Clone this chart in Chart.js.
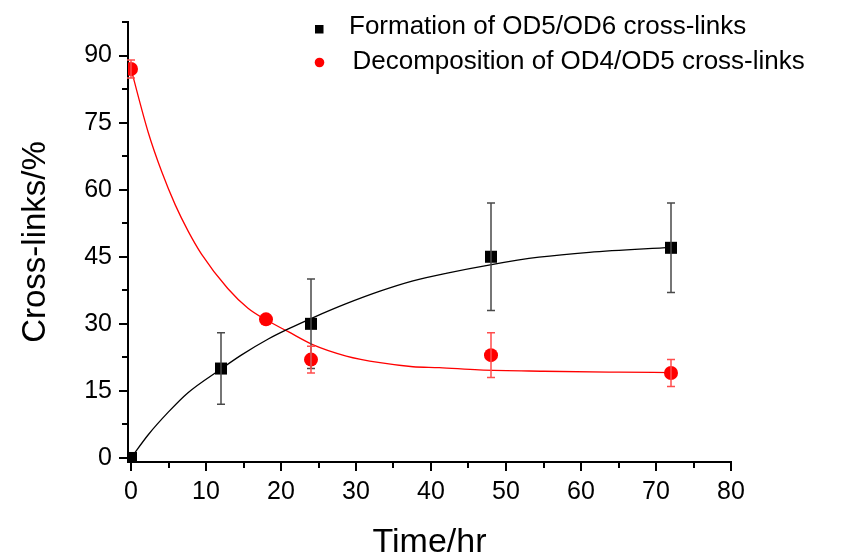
<!DOCTYPE html>
<html>
<head>
<meta charset="utf-8">
<script src="https://cdn.jsdelivr.net/npm/chart.js@4.4.1/dist/chart.umd.min.js"></script>
<style>
  html, body { margin: 0; padding: 0; background: #fff; }
  #wrap { width: 847px; height: 552px; }
</style>
</head>
<body>
<div id="wrap"><canvas id="chart"></canvas></div>
<script>
// measured points (mean and error)
const formationTime = [0, 12, 24, 48, 72];
const formationValues = [0, 20, 30, 45, 47];
const formationErr = [0, 8, 10, 12, 10];

const decompTime = [0, 18, 24, 48, 72];
const decompValues = [87, 31, 22, 23, 19];
const decompErr = [2, 0, 3, 5, 3];

// fitted curves
const formationFitTime = [0, 2.3, 5, 7.6, 12, 14.7, 18.3, 20.9, 24.3, 28.7, 33.2, 37.6, 42, 47.9, 54.4, 61.1, 72];
const formationFitValues = [0, 5.2, 10.3, 14.6, 19.9, 23, 26.6, 28.8, 31.4, 34.5, 37.3, 39.6, 41.3, 43.2, 44.9, 46, 47.1];

const decompFitTime = [0, 2.3, 4.1, 5.9, 7.6, 9.4, 12.9, 15.6, 18, 20.9, 24.3, 28.7, 33.2, 37.6, 41.1, 46.4, 55, 65, 72];
const decompFitValues = [87, 72.8, 64, 56.6, 50.8, 45.6, 37.9, 33.5, 30.9, 28.3, 25.3, 22.8, 21.3, 20.4, 20.2, 19.7, 19.4, 19.2, 19.1];

// axis ticks
const xTicks = [0, 10, 20, 30, 40, 50, 60, 70, 80];
const xMinorTicks = [5, 15, 25, 35, 45, 55, 65, 75];
const yTicks = [0, 15, 30, 45, 60, 75, 90];
const yMinorTicks = [7.5, 22.5, 37.5, 52.5, 67.5, 82.5, 97.5];

const legendLabels = ['Formation of OD5/OD6 cross-links', 'Decomposition of OD4/OD5 cross-links'];

const FONT = '"Liberation Sans", Arial, sans-serif';

const toPoints = (xs, ys) => xs.map((x, i) => ({ x: x, y: ys[i] }));

// error bars drawn on top of the markers
const errorBars = {
  id: 'errorBars',
  afterDatasetsDraw(chart) {
    const { ctx, scales: { x, y } } = chart;
    const sets = [
      { t: formationTime, v: formationValues, e: formationErr, color: '#4a4a4a' },
      { t: decompTime, v: decompValues, e: decompErr, color: '#ff4d4d' }
    ];
    ctx.save();
    ctx.lineWidth = 1.5;
    sets.forEach(s => {
      ctx.strokeStyle = s.color;
      s.t.forEach((t, i) => {
        if (!s.e[i]) return;
        const px = x.getPixelForValue(t);
        const top = y.getPixelForValue(s.v[i] + s.e[i]);
        const bot = y.getPixelForValue(s.v[i] - s.e[i]);
        ctx.beginPath();
        ctx.moveTo(px, top); ctx.lineTo(px, bot);
        ctx.moveTo(px - 4, top); ctx.lineTo(px + 4, top);
        ctx.moveTo(px - 4, bot); ctx.lineTo(px + 4, bot);
        ctx.stroke();
      });
    });
    ctx.restore();
  }
};

// minor ticks on both axes
const minorTicks = {
  id: 'minorTicks',
  afterDraw(chart) {
    const { ctx, scales: { x, y }, chartArea } = chart;
    ctx.save();
    ctx.strokeStyle = '#000';
    ctx.lineWidth = 2;
    ctx.beginPath();
    xMinorTicks.forEach(v => {
      const px = Math.round(x.getPixelForValue(v));
      ctx.moveTo(px, chartArea.bottom); ctx.lineTo(px, chartArea.bottom + 6);
    });
    yMinorTicks.forEach(v => {
      const py = Math.round(y.getPixelForValue(v));
      ctx.moveTo(chartArea.left, py); ctx.lineTo(chartArea.left - 6, py);
    });
    ctx.stroke();
    ctx.restore();
  }
};

// legend sits inside the plot, top right
const insideLegend = {
  id: 'insideLegend',
  afterDraw(chart) {
    const ctx = chart.ctx;
    ctx.save();
    ctx.font = '26px ' + FONT;
    ctx.fillStyle = '#000';
    ctx.textBaseline = 'middle';
    ctx.textAlign = 'left';
    ctx.fillRect(315, 25, 8.5, 8.5);
    ctx.fillText(legendLabels[0], 349, 27);
    ctx.fillStyle = '#ff0000';
    ctx.beginPath();
    ctx.arc(319.5, 62.5, 4.8, 0, Math.PI * 2);
    ctx.fill();
    ctx.fillStyle = '#000';
    ctx.fillText(legendLabels[1], 352.5, 61.5);
    ctx.restore();
  }
};

new Chart(document.getElementById('chart'), {
  type: 'scatter',
  data: {
    datasets: [
      {
        label: legendLabels[0],
        data: toPoints(formationTime, formationValues),
        pointStyle: 'rect',
        pointRadius: 8.5,
        pointHoverRadius: 8.5,
        backgroundColor: '#000',
        borderColor: '#000',
        borderWidth: 0,
        order: 0
      },
      {
        label: legendLabels[1],
        data: toPoints(decompTime, decompValues),
        pointStyle: 'circle',
        pointRadius: 7,
        pointHoverRadius: 7,
        backgroundColor: '#ff0000',
        borderColor: '#ff0000',
        borderWidth: 0,
        order: 0
      },
      {
        label: 'fit1',
        data: toPoints(formationFitTime, formationFitValues),
        showLine: true,
        pointRadius: 0,
        borderColor: '#000',
        borderWidth: 1.3,
        cubicInterpolationMode: 'monotone',
        order: 1
      },
      {
        label: 'fit2',
        data: toPoints(decompFitTime, decompFitValues),
        showLine: true,
        pointRadius: 0,
        borderColor: '#ff0000',
        borderWidth: 1.3,
        cubicInterpolationMode: 'monotone',
        order: 1
      }
    ]
  },
  options: {
    responsive: true,
    maintainAspectRatio: false,
    animation: false,
    events: [],
    layout: { padding: { top: 18, right: 116, left: 0, bottom: 0 } },
    plugins: {
      legend: { display: false },
      tooltip: { enabled: false }
    },
    scales: {
      x: {
        type: 'linear',
        min: -0.4,
        max: 80,
        afterBuildTicks: s => { s.ticks = xTicks.map(v => ({ value: v })); },
        afterFit: s => { s.height = 90; },
        grid: { display: true, drawOnChartArea: false, drawTicks: true, tickLength: 9, lineWidth: 2, color: '#000' },
        border: { display: true, color: '#000', width: 2 },
        ticks: { color: '#000', font: { family: FONT, size: 25 }, padding: 6, maxRotation: 0, autoSkip: false },
        title: {
          display: true, text: 'Time/hr', color: '#000',
          font: { family: FONT, size: 34, lineHeight: 1 },
          padding: { top: 0, bottom: -8 }
        }
      },
      y: {
        type: 'linear',
        min: -0.9,
        max: 97.5,
        afterBuildTicks: s => { s.ticks = yTicks.map(v => ({ value: v })); },
        afterFit: s => { s.width = 128; },
        grid: { display: true, drawOnChartArea: false, drawTicks: true, tickLength: 9, lineWidth: 2, color: '#000' },
        border: { display: true, color: '#000', width: 2 },
        ticks: { color: '#000', font: { family: FONT, size: 25 }, padding: 7, autoSkip: false },
        title: {
          display: true, text: 'Cross-links/%', color: '#000',
          font: { family: FONT, size: 33, lineHeight: 1 },
          padding: { top: 19, bottom: 0 }
        }
      }
    }
  },
  plugins: [errorBars, minorTicks, insideLegend]
});
</script>
</body>
</html>
